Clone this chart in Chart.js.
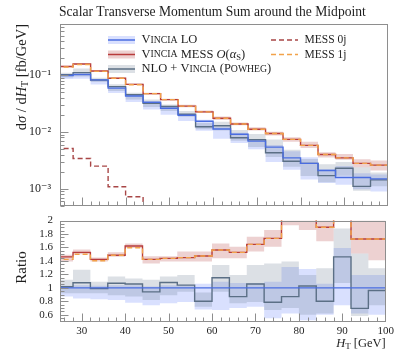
<!DOCTYPE html>
<html>
<head>
<meta charset="utf-8">
<script src="https://cdn.jsdelivr.net/npm/chart.js@4.4.1/dist/chart.umd.min.js"></script>
<style>
    html, body { margin: 0; padding: 0; background: #fff; }
    #wrap { position: relative; width: 397px; height: 350px; }
    canvas { position: absolute; left: 0; }
    #main { top: 0; }
    #ratio { top: 200px; }
</style>
</head>
<body>
<div id="wrap">
    <canvas id="main" width="397" height="222"></canvas>
    <canvas id="ratio" width="397" height="150"></canvas>
</div>
<script>
const SERIF = '"Liberation Serif", "DejaVu Serif", serif';
const INK = '#1e1e1e';
const FRAME = '#8e8e8e';

// H_T bins [GeV], 4 GeV wide
const binEdges = [24, 28, 32, 36, 40, 44, 48, 52, 56, 60, 64, 68, 72, 76, 80, 84, 88, 92, 96, 100];

// dsigma/dH_T [fb/GeV]
const vinciaLO   = [0.099, 0.103, 0.083, 0.0594, 0.0431, 0.0335, 0.0262, 0.0197, 0.0155, 0.0113, 0.0091, 0.0069, 0.0054, 0.0035, 0.0028, 0.0021, 0.00158, 0.00158, 0.00149];
const vinciaMESS = [0.143, 0.158, 0.119, 0.0885, 0.069, 0.0475, 0.0371, 0.0286, 0.0226, 0.0175, 0.0138, 0.0112, 0.0094, 0.0074, 0.0058, 0.0040, 0.0035, 0.0028, 0.0026];
const nloVincia  = [0.1026, 0.111, 0.082, 0.063, 0.0452, 0.032, 0.0282, 0.0205, 0.0124, 0.0129, 0.0079, 0.0073, 0.0043, 0.00305, 0.0028, 0.0017, 0.0023, 0.0011, 0.00143];
const mess0j     = [0.0051, 0.0034, 0.0025, 0.00108, 0.00072, 0.00035];
const mess1j     = [0.140, 0.155, 0.117, 0.0885, 0.068, 0.0475, 0.0371, 0.0286, 0.0226, 0.0175, 0.0138, 0.0112, 0.0094, 0.0074, 0.0058, 0.0040, 0.0035, 0.0028, 0.0026];

// ratios to Vincia LO
const loRatio    = [1, 1, 1, 1, 1, 1, 1, 1, 1, 1, 1, 1, 1, 1, 1, 1, 1, 1, 1];
const messRatio  = [1.46, 1.527, 1.423, 1.483, 1.621, 1.423, 1.438, 1.448, 1.472, 1.562, 1.527, 1.646, 1.735, 2.12, 2.1, 1.90, 2.25, 1.725, 1.725];
const mess1jRatio = [1.423, 1.498, 1.403, 1.483, 1.596, 1.423, 1.438, 1.448, 1.472, 1.562, 1.527, 1.646, 1.735, 2.12, 2.1, 1.90, 2.25, 1.725, 1.725];
const nloRatio   = [1.016, 1.076, 0.99, 1.067, 1.056, 0.94, 1.08, 1.04, 0.80, 1.15, 0.87, 1.056, 0.785, 0.87, 1.027, 0.80, 1.46, 0.695, 0.96];

// uncertainty bands, relative to Vincia LO
const loBandLo   = [0.87, 0.84, 0.83, 0.82, 0.78, 0.74, 0.77, 0.79, 0.68, 0.67, 0.70, 0.72, 0.55, 0.62, 0.52, 0.60, 0.74, 0.62, 0.60];
const loBandHi   = [1.03, 1.04, 1.03, 1.04, 1.04, 1.02, 1.04, 1.04, 1.06, 1.09, 1.07, 1.07, 1.09, 1.31, 1.28, 1.06, 1.59, 1.19, 1.19];
const nloBandLo  = [0.92, 0.92, 0.92, 0.89, 0.87, 0.82, 0.89, 0.94, 0.72, 0.94, 0.77, 0.79, 0.67, 0.70, 0.60, 0.62, 1.07, 0.58, 0.74];
const nloBandHi  = [1.12, 1.27, 1.09, 1.17, 1.14, 1.12, 1.17, 1.19, 0.93, 1.34, 1.19, 1.34, 1.36, 1.39, 1.19, 1.29, 1.88, 1.51, 1.29];
const messBandLo = [1.39, 1.50, 1.39, 1.46, 1.59, 1.36, 1.39, 1.39, 1.39, 1.44, 1.44, 1.54, 1.61, 1.93, 1.86, 1.69, 2.05, 1.51, 1.41];
const messBandHi = [1.49, 1.57, 1.45, 1.53, 1.66, 1.47, 1.47, 1.54, 1.54, 1.66, 1.61, 1.76, 1.86, 2.3, 2.4, 2.1, 2.6, 2.1, 2.1];

const xTickLabels = [30, 40, 50, 60, 70, 80, 90, 100];
const ratioTickLabels = [0.6, 0.8, 1, 1.2, 1.4, 1.6, 1.8, 2];
const decadeTicks = [1e-3, 1e-2, 1e-1];

const COL = {
    lo: '#4a6de0', loBand: 'rgba(95, 125, 250, 0.24)',
    mess: '#b83c3c', messBand: 'rgba(190, 85, 85, 0.27)',
    nlo: '#5b6f85', nloBand: 'rgba(95, 115, 135, 0.22)',
    mess0j: '#a84646', mess1j: '#f2a24a'
};

// one point per lower bin edge, last value repeated at the upper edge
function histPoints(values) {
    const pts = values.map((v, i) => ({x: binEdges[i], y: v}));
    pts.push({x: binEdges[values.length], y: values[values.length - 1]});
    return pts;
}

function scaleBy(rel, ref) {
    return rel.map((r, i) => r * ref[i]);
}

function stepLine(values, color, order, extra) {
    return Object.assign({
        data: histPoints(values),
        borderColor: color,
        borderWidth: 1.4,
        stepped: true,
        pointRadius: 0,
        fill: false,
        order: order
    }, extra || {});
}

function band(lo, hi, color, order) {
    return [
        stepLine(hi, 'transparent', order, {borderWidth: 0, fill: '+1', backgroundColor: color}),
        stepLine(lo, 'transparent', order, {borderWidth: 0})
    ];
}

function superscript(n) {
    const map = {'-': '\u207B', '0': '\u2070', '1': '\u00B9', '2': '\u00B2', '3': '\u00B3'};
    return String(n).split('').map(c => map[c]).join('');
}

function drawRuns(ctx, x, y, runs) {
    for (const r of runs) {
        ctx.font = r.font;
        ctx.fillText(r.text, x, y + (r.dy || 0));
        x += ctx.measureText(r.text).width;
    }
    return x;
}

function runsWidth(ctx, runs) {
    let w = 0;
    for (const r of runs) {
        ctx.font = r.font;
        w += ctx.measureText(r.text).width;
    }
    return w;
}

const F = size => `${size}px ${SERIF}`;
const FI = size => `italic ${size}px ${SERIF}`;

// small caps: lower case letters drawn as smaller capitals
function smallCaps(text, size) {
    const runs = [];
    for (const c of text) {
        const lower = c !== c.toUpperCase();
        const font = F(lower ? size * 0.78 : size);
        const last = runs[runs.length - 1];
        if (last && last.font === font) last.text += c.toUpperCase();
        else runs.push({text: c.toUpperCase(), font: font});
    }
    return runs;
}

function framePlugin(yMajor, yMinor) {
    return {
        id: 'frame',
        afterDatasetsDraw(chart) {
            const {ctx, chartArea: a, scales} = chart;
            const L = Math.round(a.left) + 0.5, R = Math.round(a.right) - 0.5;
            const T = Math.round(a.top) + 0.5, B = Math.round(a.bottom) - 0.5;
            ctx.save();
            ctx.strokeStyle = FRAME;
            ctx.lineWidth = 1;
            ctx.strokeRect(L, T, R - L, B - T);
            ctx.beginPath();
            for (let v = 26; v < 100; v += 2) {
                const px = Math.round(scales.x.getPixelForValue(v)) + 0.5;
                const len = v % 10 === 0 ? 8 : 4;
                ctx.moveTo(px, B);
                ctx.lineTo(px, B - len);
            }
            const yTick = (v, len) => {
                const py = Math.round(scales.y.getPixelForValue(v)) + 0.5;
                ctx.moveTo(L, py);
                ctx.lineTo(L + len, py);
            };
            yMajor.forEach(v => yTick(v, 8));
            yMinor.forEach(v => yTick(v, 4));
            ctx.stroke();
            ctx.restore();
        }
    };
}

const mainText = {
    id: 'mainText',
    afterDraw(chart) {
        const ctx = chart.ctx;
        ctx.save();
        ctx.fillStyle = INK;
        ctx.textBaseline = 'middle';
        ctx.textAlign = 'left';

        ctx.font = F(13.6);
        ctx.fillText('Scalar Transverse Momentum Sum around the Midpoint', 59, 12);

        // y axis title, top aligned
        const yTitle = [
            {text: 'd', font: F(14.5)}, {text: '\u03C3', font: FI(14.5)},
            {text: ' / d', font: F(14.5)}, {text: 'H', font: FI(14.5)},
            {text: 'T', font: F(10), dy: 3}, {text: ' [fb/GeV]', font: F(14.5)}
        ];
        const w = runsWidth(ctx, yTitle);
        ctx.save();
        ctx.translate(22, 24);
        ctx.rotate(-Math.PI / 2);
        drawRuns(ctx, -w, 0, yTitle);
        ctx.restore();

        // legend
        const entries = [
            {x: 108, y: 40, color: COL.lo, fill: COL.loBand,
                runs: smallCaps('Vincia LO', 12.5)},
            {x: 108, y: 54.5, color: COL.mess, fill: COL.messBand,
                runs: smallCaps('Vincia MESS ', 12.5).concat([
                    {text: 'O', font: FI(12.5)}, {text: '(', font: F(12.5)},
                    {text: '\u03B1', font: FI(12.5)}, {text: 'S', font: F(8.5), dy: 3},
                    {text: ')', font: F(12.5)}])},
            {x: 108, y: 69, color: COL.nlo, fill: COL.nloBand,
                runs: smallCaps('NLO + Vincia (Powheg)', 12.5)},
            {x: 271, y: 40, color: COL.mess0j, dash: [5, 3],
                runs: [{text: 'MESS 0j', font: F(11.5)}]},
            {x: 271, y: 54.5, color: COL.mess1j, dash: [5, 3],
                runs: [{text: 'MESS 1j', font: F(11.5)}]}
        ];
        for (const e of entries) {
            if (e.fill) {
                ctx.fillStyle = e.fill;
                ctx.fillRect(e.x, e.y - 4, 27, 8);
            }
            ctx.strokeStyle = e.color;
            ctx.lineWidth = 1.5;
            ctx.setLineDash(e.dash || []);
            ctx.beginPath();
            ctx.moveTo(e.x, e.y);
            ctx.lineTo(e.x + 27, e.y);
            ctx.stroke();
            ctx.setLineDash([]);
            ctx.fillStyle = INK;
            drawRuns(ctx, e.x + 33.5, e.y, e.runs);
        }
        ctx.restore();
    }
};

const ratioText = {
    id: 'ratioText',
    afterDraw(chart) {
        const ctx = chart.ctx;
        ctx.save();
        ctx.fillStyle = INK;
        ctx.textBaseline = 'middle';
        ctx.textAlign = 'left';

        ctx.font = F(15);
        const rw = ctx.measureText('Ratio').width;
        ctx.save();
        ctx.translate(22, 67.5);
        ctx.rotate(-Math.PI / 2);
        ctx.fillText('Ratio', -rw / 2, 0);
        ctx.restore();

        const xTitle = [
            {text: 'H', font: FI(12.5)}, {text: 'T', font: F(9), dy: 3},
            {text: ' [GeV]', font: F(12.5)}
        ];
        const w = runsWidth(ctx, xTitle);
        drawRuns(ctx, chart.chartArea.right - w, 144, xTitle);
        ctx.restore();
    }
};

const tickFont = {family: SERIF, size: 11};

// log panel
const logMinor = [];
for (let k = -4; k <= -1; k++) {
    for (let m = 2; m <= 9; m++) {
        const v = m * Math.pow(10, k);
        if (v >= 5e-4 && v <= 0.8) logMinor.push(v);
    }
}

new Chart(document.getElementById('main'), {
    type: 'line',
    data: {
        datasets: [
            stepLine(mess0j, COL.mess0j, 1, {borderDash: [5, 3]}),
            stepLine(mess1j, COL.mess1j, 2, {borderDash: [5, 3]}),
            stepLine(vinciaMESS, COL.mess, 3),
            stepLine(vinciaLO, COL.lo, 4),
            stepLine(nloVincia, COL.nlo, 5),
            ...band(scaleBy(messBandLo, vinciaLO), scaleBy(messBandHi, vinciaLO), COL.messBand, 20),
            ...band(scaleBy(nloBandLo, vinciaLO), scaleBy(nloBandHi, vinciaLO), COL.nloBand, 21),
            ...band(scaleBy(loBandLo, vinciaLO), scaleBy(loBandHi, vinciaLO), COL.loBand, 22)
        ]
    },
    options: {
        responsive: false,
        animation: false,
        events: [],
        layout: {padding: {left: 0, right: 9, top: 24, bottom: 1.5}},
        plugins: {legend: {display: false}, tooltip: {enabled: false}},
        scales: {
            x: {type: 'linear', min: 25, max: 100, display: false},
            y: {
                type: 'logarithmic', min: 5e-4, max: 0.8,
                afterFit(scale) { scale.width = 60; },
                afterBuildTicks(scale) { scale.ticks = decadeTicks.map(v => ({value: v})); },
                grid: {display: false, drawTicks: false},
                border: {display: false},
                ticks: {
                    autoSkip: false, padding: 9, color: INK, font: {family: SERIF, size: 12},
                    callback: v => '10' + superscript(Math.round(Math.log10(v)))
                }
            }
        }
    },
    plugins: [framePlugin(decadeTicks, logMinor), mainText]
});

// ratio panel
const ratioMinor = [];
for (let i = 11; i <= 39; i++) {
    if (i % 4 !== 0) ratioMinor.push(i / 20);
}

new Chart(document.getElementById('ratio'), {
    type: 'line',
    data: {
        datasets: [
            stepLine(mess1jRatio, COL.mess1j, 2, {borderDash: [5, 3]}),
            stepLine(messRatio, COL.mess, 3),
            stepLine(loRatio, COL.lo, 4),
            stepLine(nloRatio, COL.nlo, 5),
            ...band(messBandLo, messBandHi, COL.messBand, 20),
            ...band(nloBandLo, nloBandHi, COL.nloBand, 21),
            ...band(loBandLo, loBandHi, COL.loBand, 22)
        ]
    },
    options: {
        responsive: false,
        animation: false,
        events: [],
        layout: {padding: {left: 0, right: 9, top: 20.5, bottom: 0}},
        plugins: {legend: {display: false}, tooltip: {enabled: false}},
        scales: {
            x: {
                type: 'linear', min: 25, max: 100,
                afterFit(scale) { scale.height = 28.5; },
                afterBuildTicks(scale) { scale.ticks = xTickLabels.map(v => ({value: v})); },
                grid: {display: false, drawTicks: false},
                border: {display: false},
                ticks: {autoSkip: false, maxRotation: 0, padding: 3, color: INK, font: tickFont}
            },
            y: {
                type: 'linear', min: 0.5, max: 2,
                afterFit(scale) { scale.width = 60; },
                afterBuildTicks(scale) { scale.ticks = ratioTickLabels.map(v => ({value: v})); },
                grid: {display: false, drawTicks: false},
                border: {display: false},
                ticks: {
                    autoSkip: false, padding: 7, color: INK, font: tickFont,
                    callback: v => String(Math.round(v * 10) / 10)
                }
            }
        }
    },
    plugins: [framePlugin(ratioTickLabels.slice(0, -1), ratioMinor), ratioText]
});
</script>
</body>
</html>
